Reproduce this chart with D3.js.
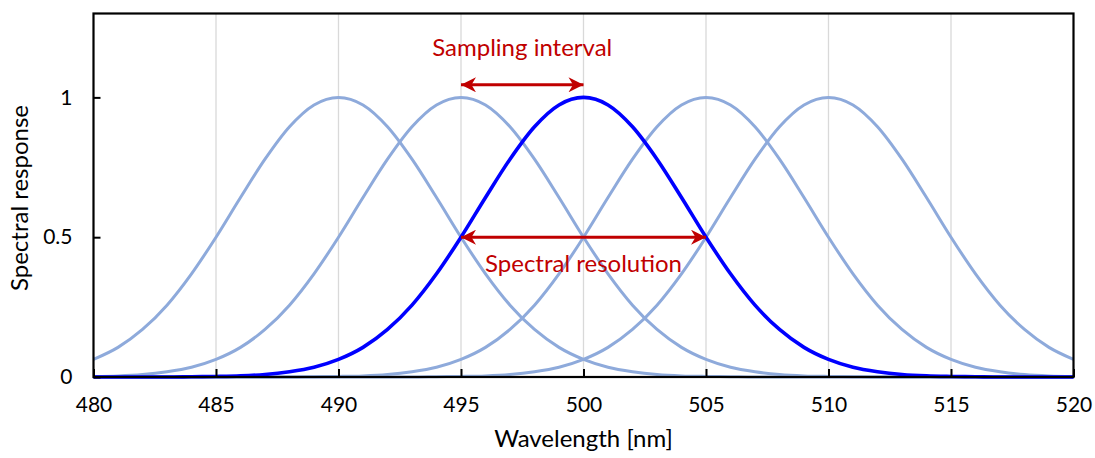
<!DOCTYPE html>
<html>
<head>
<meta charset="utf-8">
<script src="https://cdn.jsdelivr.net/npm/d3@7"></script>
<style>
  html, body { margin: 0; padding: 0; background: #fff; }
  svg { display: block; }
  text { font-family: Lato, "Open Sans", sans-serif; }
</style>
</head>
<body>
<svg id="chart" width="1095" height="458"></svg>
<script>
// ---- data ----
const wavelengths = d3.range(480, 521, 1); // 480..520 nm
const centers = [490, 495, 500, 505, 510];
const curve490 = [0.063,0.106,0.170,0.257,0.369,0.500,0.642,0.779,0.895,0.973,1.000,0.973,0.895,0.779,0.642,0.500,0.369,0.257,0.170,0.106,0.063,0.035,0.019,0.009,0.004,0.002,0.001,0,0,0,0,0,0,0,0,0,0,0,0,0,0];
const curve495 = [0.002,0.004,0.009,0.019,0.035,0.063,0.106,0.170,0.257,0.369,0.500,0.642,0.779,0.895,0.973,1.000,0.973,0.895,0.779,0.642,0.500,0.369,0.257,0.170,0.106,0.063,0.035,0.019,0.009,0.004,0.002,0.001,0,0,0,0,0,0,0,0,0];
const curve500 = [0,0,0,0,0.001,0.002,0.004,0.009,0.019,0.035,0.063,0.106,0.170,0.257,0.369,0.500,0.642,0.779,0.895,0.973,1.000,0.973,0.895,0.779,0.642,0.500,0.369,0.257,0.170,0.106,0.063,0.035,0.019,0.009,0.004,0.002,0.001,0,0,0,0];
const curve505 = [0,0,0,0,0,0,0,0,0,0.001,0.002,0.004,0.009,0.019,0.035,0.063,0.106,0.170,0.257,0.369,0.500,0.642,0.779,0.895,0.973,1.000,0.973,0.895,0.779,0.642,0.500,0.369,0.257,0.170,0.106,0.063,0.035,0.019,0.009,0.004,0.002];
const curve510 = [0,0,0,0,0,0,0,0,0,0,0,0,0,0,0.001,0.002,0.004,0.009,0.019,0.035,0.063,0.106,0.170,0.257,0.369,0.500,0.642,0.779,0.895,0.973,1.000,0.973,0.895,0.779,0.642,0.500,0.369,0.257,0.170,0.106,0.063];
const lightSeries = [curve490, curve495, curve505, curve510];
const highlightSeries = curve500;

const xTicks = [480, 485, 490, 495, 500, 505, 510, 515, 520];
const yTicks = [0, 0.5, 1];
const yTickLabels = ["0", "0.5", "1"];

// annotations
const samplingArrow = { x1: 495, x2: 500, y: 1.045, label: "Sampling interval", lx: 497.5, ly: 1.148 };
const resolutionArrow = { x1: 495, x2: 505, y: 0.5, label: "Spectral resolution", lx: 500, ly: 0.375 };

// ---- layout ----
const margin = { left: 93.5, right: 1073.5, top: 13.5, bottom: 377 };
const svg = d3.select("#chart");

const x = d3.scaleLinear().domain([480, 520]).range([margin.left, margin.right]);
const y = d3.scaleLinear().domain([0, 1.3]).range([margin.bottom, margin.top]);

// gridlines (vertical)
svg.append("g")
  .selectAll("line")
  .data(xTicks.slice(1, -1))
  .join("line")
  .attr("x1", d => x(d)).attr("x2", d => x(d))
  .attr("y1", y(0)).attr("y2", y(1.3))
  .attr("stroke", "#d9d9d9").attr("stroke-width", 1.3);

// curves
const line = d3.line()
  .x((d, i) => x(wavelengths[i]))
  .y(d => y(d))
  .curve(d3.curveMonotoneX);

svg.append("g")
  .selectAll("path")
  .data(lightSeries)
  .join("path")
  .attr("d", d => line(d))
  .attr("fill", "none")
  .attr("stroke", "#8eaadb")
  .attr("stroke-width", 3);

svg.append("path")
  .attr("d", line(highlightSeries))
  .attr("fill", "none")
  .attr("stroke", "#0000ff")
  .attr("stroke-width", 3.6);

// frame
svg.append("rect")
  .attr("x", x(480)).attr("y", y(1.3))
  .attr("width", x(520) - x(480)).attr("height", y(0) - y(1.3))
  .attr("fill", "none").attr("stroke", "#000").attr("stroke-width", 2.2);

// axes (ticks inward)
const xAxis = d3.axisBottom(x).tickValues(xTicks).tickSize(-8).tickPadding(20).tickFormat(d3.format("d"));
const gx = svg.append("g").attr("transform", `translate(0,${y(0)})`).call(xAxis);
gx.select(".domain").remove();
gx.selectAll(".tick line").attr("stroke", "#000").attr("stroke-width", 2);
gx.selectAll(".tick text").attr("font-size", 21).attr("fill", "#000").attr("font-family", "Lato");

const yAxis = d3.axisLeft(y).tickValues(yTicks).tickSize(-7).tickPadding(21)
  .tickFormat((d, i) => yTickLabels[i]);
const gy = svg.append("g").attr("transform", `translate(${x(480)},0)`).call(yAxis);
gy.select(".domain").remove();
gy.selectAll(".tick line").attr("stroke", "#000").attr("stroke-width", 2);
gy.selectAll(".tick text").attr("font-size", 21).attr("fill", "#000").attr("font-family", "Lato");

// axis titles
svg.append("text")
  .attr("x", x(500)).attr("y", 447)
  .attr("text-anchor", "middle").attr("font-size", 24).attr("fill", "#000")
  .text("Wavelength [nm]");

svg.append("text")
  .attr("transform", `translate(28,${198}) rotate(-90)`)
  .attr("text-anchor", "middle").attr("font-size", 24).attr("fill", "#000")
  .text("Spectral response");

// annotations
const red = "#c00000";
const defs = svg.append("defs");
function marker(id, orient) {
  defs.append("marker")
    .attr("id", id)
    .attr("viewBox", "0 0 10 10")
    .attr("refX", 10).attr("refY", 5)
    .attr("markerUnits", "userSpaceOnUse")
    .attr("markerWidth", 17).attr("markerHeight", 15)
    .attr("orient", orient)
    .append("path")
    .attr("d", "M0,0 L10,5 L0,10 L3,5 Z")
    .attr("fill", red);
}
marker("arrowEnd", "auto");
marker("arrowStart", "auto-start-reverse");

[samplingArrow, resolutionArrow].forEach(a => {
  svg.append("line")
    .attr("x1", x(a.x1)).attr("x2", x(a.x2))
    .attr("y1", y(a.y)).attr("y2", y(a.y))
    .attr("stroke", red).attr("stroke-width", 3)
    .attr("marker-start", "url(#arrowStart)")
    .attr("marker-end", "url(#arrowEnd)");
  svg.append("text")
    .attr("x", x(a.lx)).attr("y", y(a.ly))
    .attr("text-anchor", "middle").attr("font-size", 24).attr("fill", red)
    .text(a.label);
});
</script>
</body>
</html>
